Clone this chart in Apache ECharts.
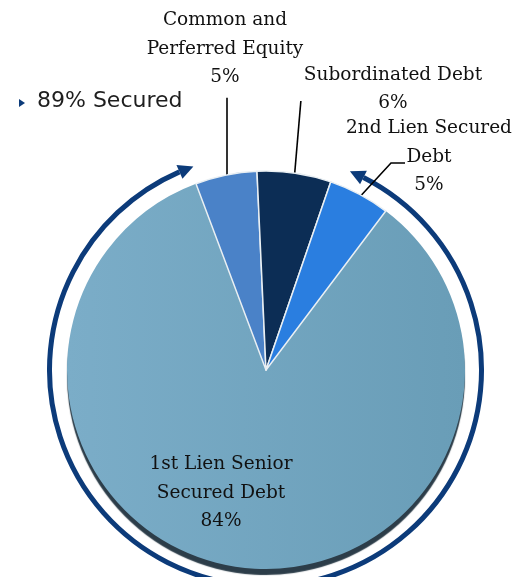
<!DOCTYPE html>
<html lang="en">
<head>
    <meta charset="UTF-8">
    <title>Portfolio composition</title>
    <style>
        html, body { margin: 0; padding: 0; background: #fff; }
    </style>
</head>
<body>
<div id="main" style="width: 512px;height:577px;"></div>

<script src="https://cdn.jsdelivr.net/npm/echarts@6/dist/echarts.min.js"></script>
<script>
    // data
    var categories = ['1st Lien Senior Secured Debt', 'Common and Perferred Equity', 'Subordinated Debt', '2nd Lien Secured Debt'];
    var labelTexts = ['1st Lien Senior\nSecured Debt', 'Common and\nPerferred Equity', 'Subordinated Debt', '2nd Lien Secured\nDebt'];
    var shares = [84, 5, 6, 5];
    var securedNote = '89% Secured';

    // layout
    var pieCenter = [266, 370];
    var pieRadius = 199;
    var labelPos = [[221, 493], [225, 49], [393, 89], [429, 157]];
    var colors = [null, '#4a82c8', '#0c2d55', '#2a7ee0'];
    var navy = '#0c3b7a';

    var myChart = echarts.init(document.getElementById('main'));

    var pieData = [];
    for (var i = 0; i < shares.length; i++) {
        var item = {name: categories[i], value: shares[i]};
        if (i === 0) {
            // big slice carries the dark rim at the bottom
            item.itemStyle = {
                color: {
                    type: 'linear', x: 0, y: 0, x2: 1, y2: 0,
                    colorStops: [{offset: 0, color: '#7badc8'}, {offset: 1, color: '#699db7'}]
                },
                borderWidth: 0,
                shadowColor: '#2c3d49',
                shadowBlur: 1,
                shadowOffsetY: 6
            };
            item.label = {position: 'inside'};
            item.labelLine = {show: false};
        } else {
            item.itemStyle = {color: colors[i]};
        }
        pieData.push(item);
    }

    // arc with two arrow heads around the pie
    var arcC = [265.5, 370], arcR = 216;
    var deg = Math.PI / 180;
    var headLen = 15, headHalf = 7.5;
    function arrowHead(baseAngle, dirSign) {
        var d = headLen / arcR;
        var tipA = baseAngle + dirSign * d;
        var cx = arcC[0], cy = arcC[1];
        var bx = cx + arcR * Math.cos(baseAngle), by = cy + arcR * Math.sin(baseAngle);
        var nx = Math.cos(baseAngle), ny = Math.sin(baseAngle);
        return [
            [bx + nx * headHalf, by + ny * headHalf],
            [cx + arcR * Math.cos(tipA), cy + arcR * Math.sin(tipA)],
            [bx - nx * headHalf, by - ny * headHalf]
        ];
    }
    var leftTip = 250.5 * deg, rightTip = 293 * deg;
    var leftBase = leftTip - headLen / arcR, rightBase = rightTip + headLen / arcR;

    var option = {
        animation: false,
        backgroundColor: '#fff',
        graphic: [
            {
                type: 'arc',
                shape: {cx: arcC[0], cy: arcC[1], r: arcR, startAngle: rightBase - 2 * Math.PI, endAngle: leftBase, clockwise: true},
                style: {stroke: navy, lineWidth: 5, fill: null}
            },
            {type: 'polygon', shape: {points: arrowHead(leftBase, 1)}, style: {fill: navy}},
            {type: 'polygon', shape: {points: arrowHead(rightBase, -1)}, style: {fill: navy}},
            {type: 'polygon', shape: {points: [[19, 99], [25, 103], [19, 107]]}, style: {fill: navy}},
            {
                type: 'text', left: 37, top: 90,
                style: {text: securedNote, font: '22px "DejaVu Sans"', fill: '#1e1e1e'}
            }
        ],
        series: [{
            type: 'pie',
            center: pieCenter,
            radius: pieRadius,
            startAngle: 53,
            clockwise: true,
            avoidLabelOverlap: false,
            emphasis: {disabled: true},
            itemStyle: {borderColor: '#e9eff3', borderWidth: 1.5},
            label: {
                show: true,
                position: 'outside',
                fontFamily: 'DejaVu Serif',
                fontSize: 18.5,
                lineHeight: 28.5,
                color: '#111',
                align: 'center',
                formatter: function (p) {
                    return labelTexts[p.dataIndex] + '\n' + shares[p.dataIndex] + '%';
                }
            },
            labelLine: {show: true, lineStyle: {color: '#000', width: 1.6}},
            labelLayout: function (p) {
                var pos = labelPos[p.dataIndex];
                var out = {x: pos[0], y: pos[1], align: 'center', verticalAlign: 'middle'};
                var h = p.labelRect.height, w = p.labelRect.width;
                var a = p.labelLinePoints && p.labelLinePoints[0];
                if (a) {
                    if (p.dataIndex === 1) {
                        var y0 = pos[1] + h / 2 + 6;
                        out.labelLinePoints = [[pos[0] + 2, a[1] + 4], [pos[0] + 2, y0], [pos[0] + 2, y0]];
                    } else if (p.dataIndex === 2) {
                        var s = [pos[0] - w / 2 - 3, pos[1] + 12];
                        out.labelLinePoints = [[a[0], a[1] + 4], s, s];
                    } else if (p.dataIndex === 3) {
                        out.labelLinePoints = [[a[0], a[1] + 3], [pos[0] - 38, pos[1] + 6], [pos[0] - 24, pos[1] + 6]];
                    }
                }
                return out;
            },
            data: pieData
        }]
    };

    myChart.setOption(option);
</script>
</body>
</html>
